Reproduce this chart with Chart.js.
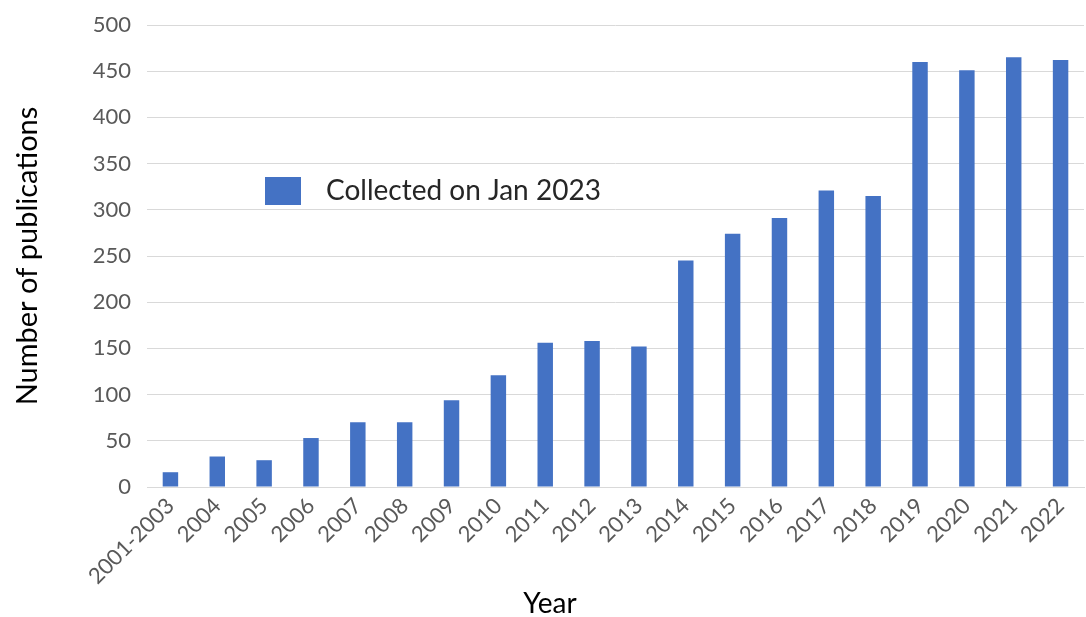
<!DOCTYPE html>
<html lang="en">
<head>
  <meta charset="UTF-8">
  <title>Number of publications per year</title>
  <script src="https://cdn.jsdelivr.net/npm/chart.js"></script>
  <style>
    html, body {
      margin: 0;
      padding: 0;
      background: #fff;
    }
    #wrap {
      width: 1086px;
      height: 617px;
    }
  </style>
</head>
<body>
  <div id="wrap"><canvas id="pubChart"></canvas></div>
  <script>
    // Data
    const years = ['2001-2003', '2004', '2005', '2006', '2007', '2008', '2009', '2010', '2011', '2012',
      '2013', '2014', '2015', '2016', '2017', '2018', '2019', '2020', '2021', '2022']
    const publications = [16, 33, 29, 53, 70, 70, 94, 121, 156, 158,
      152, 245, 274, 291, 321, 315, 460, 451, 465, 462]
    const seriesLabel = 'Collected on Jan 2023'
    const xTitle = 'Year'
    const yTitle = 'Number of publications'
    const yTicks = [0, 50, 100, 150, 200, 250, 300, 350, 400, 450, 500]

    const barColor = '#4472c4'
    const gridColor = '#d9d9d9'
    const tickColor = '#595959'
    const fontFamily = 'Lato, "Open Sans", "Noto Sans", sans-serif'

    // Legend inside the plot area and the x title centred on the whole figure,
    // the way the original spreadsheet chart has them
    const extras = {
      id: 'extras',
      afterDraw(chart) {
        const ctx = chart.ctx
        const ds = chart.data.datasets[0]
        ctx.save()
        ctx.fillStyle = ds.backgroundColor
        ctx.fillRect(265, 177, 36, 28)
        ctx.fillStyle = '#262626'
        ctx.font = '28px ' + fontFamily
        ctx.textBaseline = 'middle'
        ctx.fillText(ds.label, 326, 191)
        ctx.fillStyle = '#000'
        ctx.font = '28px ' + fontFamily
        ctx.textAlign = 'center'
        ctx.fillText(xTitle, 550, 604)
        ctx.restore()
      }
    }

    new Chart(document.getElementById('pubChart'), {
      type: 'bar',
      data: {
        labels: years,
        datasets: [{
          label: seriesLabel,
          data: publications,
          backgroundColor: barColor,
          categoryPercentage: 1,
          barPercentage: 0.33
        }]
      },
      options: {
        responsive: true,
        maintainAspectRatio: false,
        animation: false,
        layout: { padding: { top: 25, right: 2 } },
        plugins: {
          legend: { display: false },
          tooltip: { enabled: false }
        },
        scales: {
          x: {
            grid: { display: false, drawTicks: false },
            border: { color: gridColor },
            ticks: {
              color: tickColor,
              font: { family: fontFamily, size: 22 },
              minRotation: 45,
              maxRotation: 45,
              autoSkip: false,
              padding: 6
            },
            afterFit(scale) { scale.height = 130 }
          },
          y: {
            min: 0,
            max: 500,
            afterBuildTicks(scale) { scale.ticks = yTicks.map(v => ({ value: v })) },
            grid: { color: gridColor, drawTicks: false },
            border: { display: false },
            ticks: {
              color: tickColor,
              font: { family: fontFamily, size: 22 },
              padding: 16
            },
            title: {
              display: true,
              text: yTitle,
              color: '#000',
              font: { family: fontFamily, size: 29 },
              padding: { top: 10, bottom: 8 }
            },
            afterFit(scale) {
              scale.width = 147
              scale.paddingTop = 0
              scale.paddingBottom = 0
            }
          }
        }
      },
      plugins: [extras]
    })
  </script>
</body>
</html>
